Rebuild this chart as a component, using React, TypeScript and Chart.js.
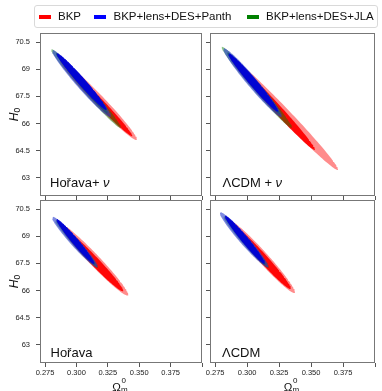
import { useEffect, useRef } from 'react';
import { Chart, registerables } from 'chart.js';
Chart.register(...registerables);

// ---------- data ----------
const seriesNames = ['BKP', 'BKP+lens+DES+Panth', 'BKP+lens+DES+JLA'];
const panelTitles = ['Hořava+ ν', 'ΛCDM + ν', 'Hořava', 'ΛCDM'];

const xTickValues = [0.275, 0.3, 0.325, 0.35, 0.375, 0.4];
const xTickLabels = ['0.275', '0.300', '0.325', '0.350', '0.375', ''];
const yTickValues = [63, 64.5, 66, 67.5, 69, 70.5];
const yTickLabels = ['63', '64.5', '66', '67.5', '69', '70.5'];
const xRange = [0.271, 0.4];
const yRange = [62, 71];

// contour summary per panel: [Ωm low, Ωm high, H0 low, H0 high, correlation]
const bkp95 = [
  [0.2869, 0.3482, 65.09, 69.51, -0.982],
  [0.2866, 0.3711, 63.44, 69.67, -0.99],
  [0.2865, 0.3413, 65.72, 69.7, -0.975],
  [0.2862, 0.3375, 65.86, 69.85, -0.975],
];
const bkp68 = [
  [0.2925, 0.3445, 65.3, 69.07, -0.988],
  [0.2898, 0.3531, 64.54, 69.4, -0.99],
  [0.2895, 0.3373, 65.96, 69.42, -0.98],
  [0.2892, 0.3343, 66.08, 69.58, -0.98],
];
const panth95 = [
  [0.2806, 0.3275, 66.36, 70.06, -0.975],
  [0.2814, 0.3271, 66.36, 70.16, -0.975],
  [0.2806, 0.3169, 67.28, 70.08, -0.968],
  [0.2788, 0.3166, 67.28, 70.32, -0.968],
];
const panth68 = [
  [0.2843, 0.3241, 66.75, 69.88, -0.98],
  [0.2853, 0.3244, 66.65, 69.88, -0.98],
  [0.284, 0.3143, 67.47, 69.95, -0.975],
  [0.2827, 0.314, 67.47, 70.13, -0.975],
];
const jla95 = [
  [0.2798, 0.3355, 65.75, 70.12, -0.987],
  [0.2801, 0.3351, 65.75, 70.24, -0.987],
  [0.283, 0.3172, 67.25, 69.9, -0.978],
  [0.2815, 0.317, 67.25, 70.1, -0.978],
];
const jla68 = [
  [0.2837, 0.325, 66.55, 69.9, -0.99],
  [0.2843, 0.326, 66.5, 69.95, -0.99],
  [0.285, 0.315, 67.4, 69.85, -0.982],
  [0.284, 0.3145, 67.4, 70.0, -0.982],
];

// ---------- styles ----------
const FONT = '"Liberation Sans", Arial, sans-serif';
const legendColors = ['#ff0000', '#0000ff', '#008000'];
const layers = [
  { data: panth68, color: 'rgba(0,0,215,0.95)' },
  { data: panth95, color: 'rgba(40,60,205,0.6)' },
  { data: jla68, color: 'rgba(0,128,0,0.9)' },
  { data: jla95, color: 'rgba(0,128,0,0.45)' },
  { data: bkp68, color: 'rgba(255,0,0,0.95)' },
  { data: bkp95, color: 'rgba(255,0,0,0.45)' },
];

const panelLayout = [
  { cv: { l: 0, t: 0, w: 206, h: 200 }, area: { l: 40, t: 33, r: 202, b: 196 }, xLab: false, yLab: true, tpos: [10, 9.5] },
  { cv: { l: 204, t: 0, w: 178, h: 200 }, area: { l: 210, t: 33, r: 375, b: 196 }, xLab: false, yLab: false, tpos: [12.5, 9.5] },
  { cv: { l: 0, t: 198, w: 206, h: 193 }, area: { l: 40, t: 200, r: 202, b: 363 }, xLab: true, yLab: true, tpos: [10.5, 6.5] },
  { cv: { l: 204, t: 198, w: 178, h: 193 }, area: { l: 210, t: 200, r: 375, b: 363 }, xLab: true, yLab: false, tpos: [12, 6.5] },
];

function contour(c: number[]) {
  const [x0, x1, y0, y1, r] = c;
  const cx = (x0 + x1) / 2, hx = (x1 - x0) / 2;
  const cy = (y0 + y1) / 2, hy = (y1 - y0) / 2;
  const s = Math.sqrt(1 - r * r);
  const pts: { x: number; y: number }[] = [];
  const N = 160;
  for (let i = 0; i <= N; i++) {
    const t = (2 * Math.PI * i) / N;
    pts.push({ x: cx + hx * Math.cos(t), y: cy + hy * (r * Math.cos(t) + s * Math.sin(t)) });
  }
  return pts;
}

function Panel({ idx }: { idx: number }) {
  const ref = useRef<HTMLCanvasElement | null>(null);
  const lay = panelLayout[idx];
  useEffect(() => {
    if (!ref.current) return;
    const { cv, area } = lay;
    const framePlugin = {
      id: 'frame',
      afterDraw(chart: any) {
        const { ctx, chartArea: a } = chart;
        ctx.save();
        ctx.strokeStyle = '#777';
        ctx.lineWidth = 1;
        ctx.strokeRect(a.left + 0.5, a.top + 0.5, a.right - a.left - 1, a.bottom - a.top - 1);
        // panel title
        const title = panelTitles[idx];
        const x = a.left + lay.tpos[0];
        const y = a.bottom - lay.tpos[1];
        ctx.fillStyle = '#111';
        ctx.textBaseline = 'alphabetic';
        ctx.textAlign = 'left';
        const k = title.indexOf('ν');
        const plain = k >= 0 ? title.slice(0, k) : title;
        ctx.font = `13px ${FONT}`;
        ctx.fillText(plain, x, y);
        if (k >= 0) {
          const w = ctx.measureText(plain).width;
          ctx.font = `italic 13px ${FONT}`;
          ctx.fillText('ν', x + w, y);
        }
        // axis titles
        if (lay.yLab) {
          const yc = (a.top + a.bottom) / 2;
          ctx.save();
          ctx.translate(17.5, yc);
          ctx.rotate(-Math.PI / 2);
          ctx.font = `italic 12px ${FONT}`;
          const wH = ctx.measureText('H').width;
          ctx.font = `8.5px ${FONT}`;
          const w0 = ctx.measureText('0').width;
          const start = -(wH + w0) / 2;
          ctx.font = `italic 12px ${FONT}`;
          ctx.fillText('H', start, 0);
          ctx.font = `8.5px ${FONT}`;
          ctx.fillText('0', start + wH, 2.5);
          ctx.restore();
        }
        if (lay.xLab) {
          const xc = (a.left + a.right) / 2;
          ctx.font = `11.5px ${FONT}`;
          const wO = ctx.measureText('Ω').width;
          ctx.font = `8px ${FONT}`;
          const wm = ctx.measureText('m').width;
          const st = xc - (wO + wm) / 2 - 1;
          ctx.font = `11.5px ${FONT}`;
          ctx.fillText('Ω', st, 390.5 - cv.t);
          ctx.font = `8px ${FONT}`;
          ctx.fillText('0', st + wO + 0.5, 383 - cv.t);
          ctx.fillText('m', st + wO, 392 - cv.t);
        }
        ctx.restore();
      },
    };
    const datasets = layers.map((L) => ({
      data: contour(L.data[idx]),
      showLine: true,
      fill: 'shape',
      backgroundColor: L.color,
      borderWidth: 0,
      borderColor: 'rgba(0,0,0,0)',
      pointRadius: 0,
      tension: 0,
    }));
    const tickFont = { family: FONT, size: 7.5 };
    const chart = new Chart(ref.current, {
      type: 'scatter',
      data: { datasets } as any,
      options: {
        animation: false,
        responsive: false,
        events: [],
        layout: { padding: { top: area.t - cv.t, right: cv.l + cv.w - area.r, left: 0, bottom: 0 } },
        plugins: { legend: { display: false }, tooltip: { enabled: false } },
        scales: {
          x: {
            type: 'linear',
            min: xRange[0],
            max: xRange[1],
            afterBuildTicks: (s: any) => {
              s.ticks = xTickValues.map((v) => ({ value: v }));
            },
            afterFit: (s: any) => {
              s.height = cv.t + cv.h - area.b;
              s.paddingLeft = 0;
              s.paddingRight = 0;
            },
            ticks: {
              display: lay.xLab,
              autoSkip: false,
              maxRotation: 0,
              padding: 1,
              color: '#222',
              font: tickFont,
              callback: (_v: any, i: number) => xTickLabels[i],
            },
            grid: { display: true, drawOnChartArea: false, drawTicks: true, tickLength: 4, tickColor: '#555' },
            border: { display: false },
          },
          y: {
            type: 'linear',
            min: yRange[0],
            max: yRange[1],
            afterBuildTicks: (s: any) => {
              s.ticks = yTickValues.map((v) => ({ value: v }));
            },
            afterFit: (s: any) => {
              s.width = area.l - cv.l;
              s.paddingTop = 0;
              s.paddingBottom = 0;
            },
            ticks: {
              display: lay.yLab,
              autoSkip: false,
              padding: 6,
              color: '#222',
              font: tickFont,
              callback: (_v: any, i: number) => yTickLabels[i],
            },
            grid: { display: true, drawOnChartArea: false, drawTicks: true, tickLength: 4, tickColor: '#555' },
            border: { display: false },
          },
        },
      } as any,
      plugins: [framePlugin],
    });
    return () => chart.destroy();
  }, [idx]);
  const { cv } = lay;
  return (
    <canvas
      ref={ref}
      width={cv.w}
      height={cv.h}
      style={{ position: 'absolute', left: cv.l, top: cv.t, width: cv.w, height: cv.h }}
    />
  );
}

const legendSwatchX = [4, 59, 212];
const legendTextX = [23, 78.5, 231];

export default function App() {
  return (
    <div style={{ position: 'fixed', left: 0, top: 0, width: 382, height: 391, overflow: 'hidden', background: '#fff' }}>
      {[0, 1, 2, 3].map((i) => (
        <Panel key={i} idx={i} />
      ))}
      <div
        style={{
          position: 'absolute',
          left: 34,
          top: 5,
          width: 344,
          height: 23,
          border: '1px solid #d9d9d9',
          borderRadius: 3,
          boxSizing: 'border-box',
          background: 'rgba(255,255,255,0.85)',
          fontFamily: FONT,
          fontSize: 11.5,
          color: '#111',
        }}
      >
        {seriesNames.map((n, i) => (
          <div key={n}>
            <div
              style={{
                position: 'absolute',
                left: legendSwatchX[i],
                top: 8.5,
                width: 12,
                height: 4.5,
                background: legendColors[i],
              }}
            />
            <div style={{ position: 'absolute', left: legendTextX[i], top: 3, lineHeight: '14px', whiteSpace: 'nowrap' }}>{n}</div>
          </div>
        ))}
      </div>
    </div>
  );
}
